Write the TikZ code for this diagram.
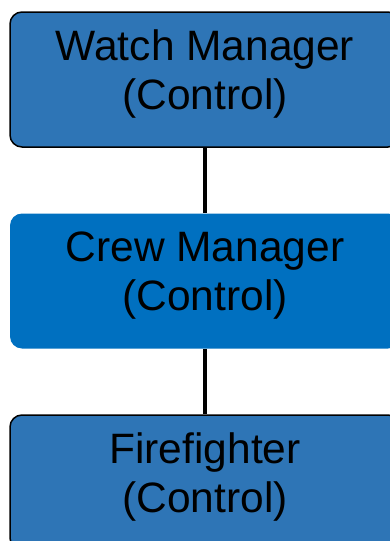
\documentclass[tikz,border=0pt]{standalone}
\usepackage{fontspec}
\setmainfont{Liberation Sans}
\usetikzlibrary{positioning}
\definecolor{roleblue}{HTML}{2E75B6}
\definecolor{crewblue}{HTML}{0070C0}
\tikzset{
  role/.style={rectangle, rounded corners=12pt, fill=roleblue, draw=black, line width=1.5pt,
    minimum width=390pt, minimum height=135pt, align=center, text depth=19pt,
    font=\fontsize{42.5}{49}\selectfont},
  crew/.style={role, fill=crewblue, draw=none},
  link/.style={line width=4pt}
}
\begin{document}
\begin{tikzpicture}[x=1pt,y=1pt]
\useasboundingbox (0,0) rectangle (390,-541);

% Chain of command
\node[role] (watch) at (205,-79.5) {Watch Manager\\(Control)};
\node[crew, below=65pt of watch] (crew) {Crew Manager\\(Control)};
\node[role, below=65pt of crew] (fire) {Firefighter\\(Control)};

\draw[link] (watch) -- (crew);
\draw[link] (crew) -- (fire);

\end{tikzpicture}
\end{document}
